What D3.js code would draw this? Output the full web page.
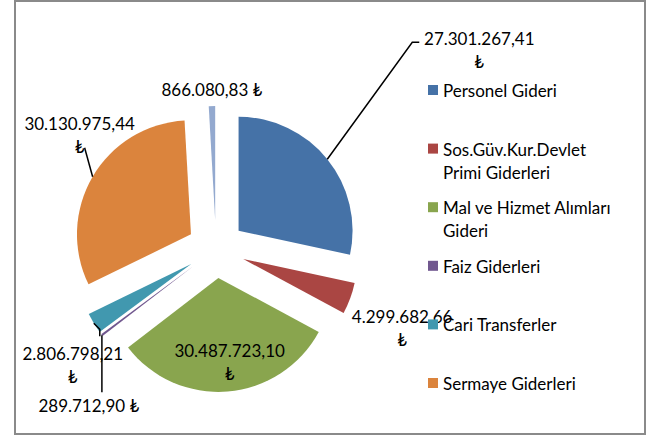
<!DOCTYPE html>
<html lang="tr">
<head>
<meta charset="UTF-8">
<title>Gider dağılımı</title>
<style>
  body { margin: 0; background: #fff; }
  svg text { font-family: Lato, "DejaVu Sans", sans-serif; font-size: 17px; fill: #000; }
  .leader { fill: none; stroke: #000; stroke-width: 1.5; }
</style>
</head>
<body>
<svg id="chart"></svg>
<script src="https://d3js.org/d3.v7.min.js"></script>
<script>
// data
var categories = ["Personel Gideri", "Sos.Güv.Kur.Devlet Primi Giderleri", "Mal ve Hizmet Alımları Gideri",
  "Faiz Giderleri", "Cari Transferler", "Sermaye Giderleri", "Sermaye Transferleri"];
var values = [27301267.41, 4299682.66, 30487723.10, 289712.90, 2806798.21, 30130975.44, 866080.83];
var colors = ["#4572A7", "#AA4643", "#89A54E", "#71588F", "#4198AF", "#DB843D", "#93A9CF"];
var legendCount = 6; // the 7th legend entry is cut off in the original

// label placement relative to the outer mid point of each slice
var labelLayout = [
  { dx: 152, dy: -121, wrap: true, leader: [[85, -117], [92, -117]] },
  { dx: 52, dy: 18, wrap: true, leader: null },
  { dx: 2, dy: -42, wrap: true, leader: null },
  { dx: -13, dy: 70, wrap: false, leader: [[0, 57]] },
  { dx: -21, dy: 30, wrap: true, leader: [[6, 6], [6, 13]] },
  { dx: -13, dy: -54, wrap: true, leader: [[-8, -29]] },
  { dx: 0, dy: -17, wrap: false, leader: null }
];

var w = 660, h = 436;
var cx = 216, cy = 249, r = 114, explode = 29;
var lineH = 23;

var svg = d3.select("#chart").attr("width", w).attr("height", h);

svg.append("rect")
  .attr("x", 15).attr("y", 1)
  .attr("width", 630).attr("height", 433)
  .attr("fill", "#fff")
  .attr("stroke", "#8a8a8a")
  .attr("stroke-width", 2);

var tr = d3.formatLocale({ decimal: ",", thousands: ".", grouping: [3], currency: ["", " ₺"] });
var fmt = tr.format(",.2f");

var pie = d3.pie().sort(null).value(function (d) { return d; });
var arcs = pie(values);
var arc = d3.arc().innerRadius(0).outerRadius(r);

function dir(a) { return [Math.sin(a), -Math.cos(a)]; }
function mid(d) { return (d.startAngle + d.endAngle) / 2; }

var g = svg.append("g").attr("transform", "translate(" + cx + "," + cy + ")");

g.selectAll("path.slice")
  .data(arcs)
  .enter().append("path")
  .attr("class", "slice")
  .attr("d", arc)
  .attr("fill", function (d, i) { return colors[i]; })
  .attr("transform", function (d) {
    var v = dir(mid(d));
    return "translate(" + v[0] * explode + "," + v[1] * explode + ")";
  });

// labels
arcs.forEach(function (d, i) {
  var v = dir(mid(d));
  var ox = v[0] * (r + explode), oy = v[1] * (r + explode);
  var lay = labelLayout[i];
  if (lay.leader) {
    var pts = [[ox, oy]].concat(lay.leader.map(function (p) { return [ox + p[0], oy + p[1]]; }));
    g.append("path").attr("class", "leader").attr("d", d3.line()(pts));
  }
  var lines = lay.wrap ? [fmt(values[i]), "₺"] : [fmt(values[i]) + " ₺"];
  var t = g.append("text")
    .attr("text-anchor", "middle")
    .attr("dominant-baseline", "central");
  lines.forEach(function (s, k) {
    t.append("tspan")
      .attr("x", ox + lay.dx)
      .attr("y", oy + lay.dy + k * lineH)
      .text(s);
  });
});

// legend
var legendY = d3.scaleLinear().domain([0, legendCount - 1]).range([90, 383]);
var lx = 428, maxW = 182;
var legend = svg.append("g");
d3.range(legendCount).forEach(function (i) {
  var y = legendY(i);
  legend.append("rect")
    .attr("x", lx).attr("y", y - 5)
    .attr("width", 10).attr("height", 10)
    .attr("fill", colors[i]);
  var t = legend.append("text").attr("dominant-baseline", "central");
  var words = categories[i].split(" ");
  var line = [], k = 0;
  var ts = t.append("tspan").attr("x", lx + 15).attr("y", y);
  words.forEach(function (wd) {
    line.push(wd);
    ts.text(line.join(" "));
    if (ts.node().getComputedTextLength() > maxW && line.length > 1) {
      line.pop();
      ts.text(line.join(" "));
      line = [wd];
      k++;
      ts = t.append("tspan").attr("x", lx + 15).attr("y", y + k * lineH).text(wd);
    }
  });
});
</script>
</body>
</html>
